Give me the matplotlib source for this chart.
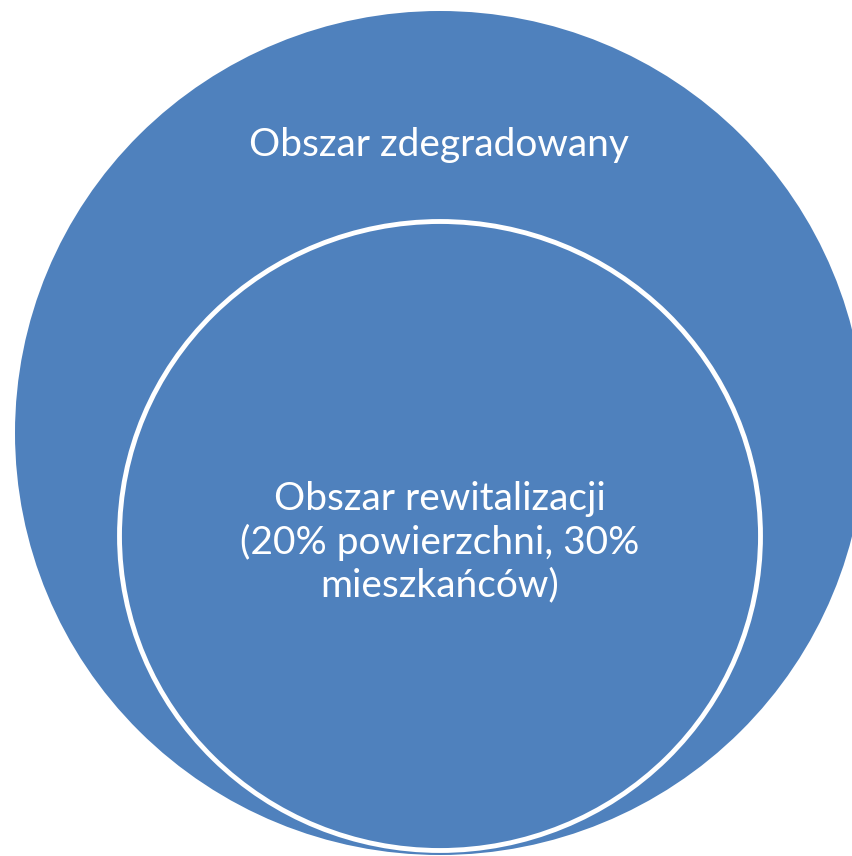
import matplotlib.pyplot as plt
from matplotlib.patches import Ellipse

# etykiety obszarów
outer_label = "Obszar zdegradowany"
inner_label = "Obszar rewitalizacji\n(20% powierzchni, 30%\nmieszkańców)"

fill_color = "#4F81BD"

fig = plt.figure(figsize=(8.52, 8.56), dpi=100)
ax = fig.add_axes([0, 0, 1, 1])
ax.set_xlim(0, 852)
ax.set_ylim(856, 0)
ax.axis("off")

# obszar zdegradowany (duże koło)
outer = Ellipse((440, 433), 850, 844, facecolor=fill_color, edgecolor="none")
ax.add_patch(outer)

# obszar rewitalizacji (mniejsze koło z białą obwódką)
inner = Ellipse((440, 536), 641, 629, facecolor=fill_color, edgecolor="white", linewidth=3.5)
ax.add_patch(inner)

ax.text(439, 145, outer_label, color="white", fontsize=28, family="Lato",
        ha="center", va="center")
ax.text(440, 542, inner_label, color="white", fontsize=28, family="Lato",
        ha="center", va="center", multialignment="center", linespacing=1.22)

fig.savefig("out.png", dpi=100)
